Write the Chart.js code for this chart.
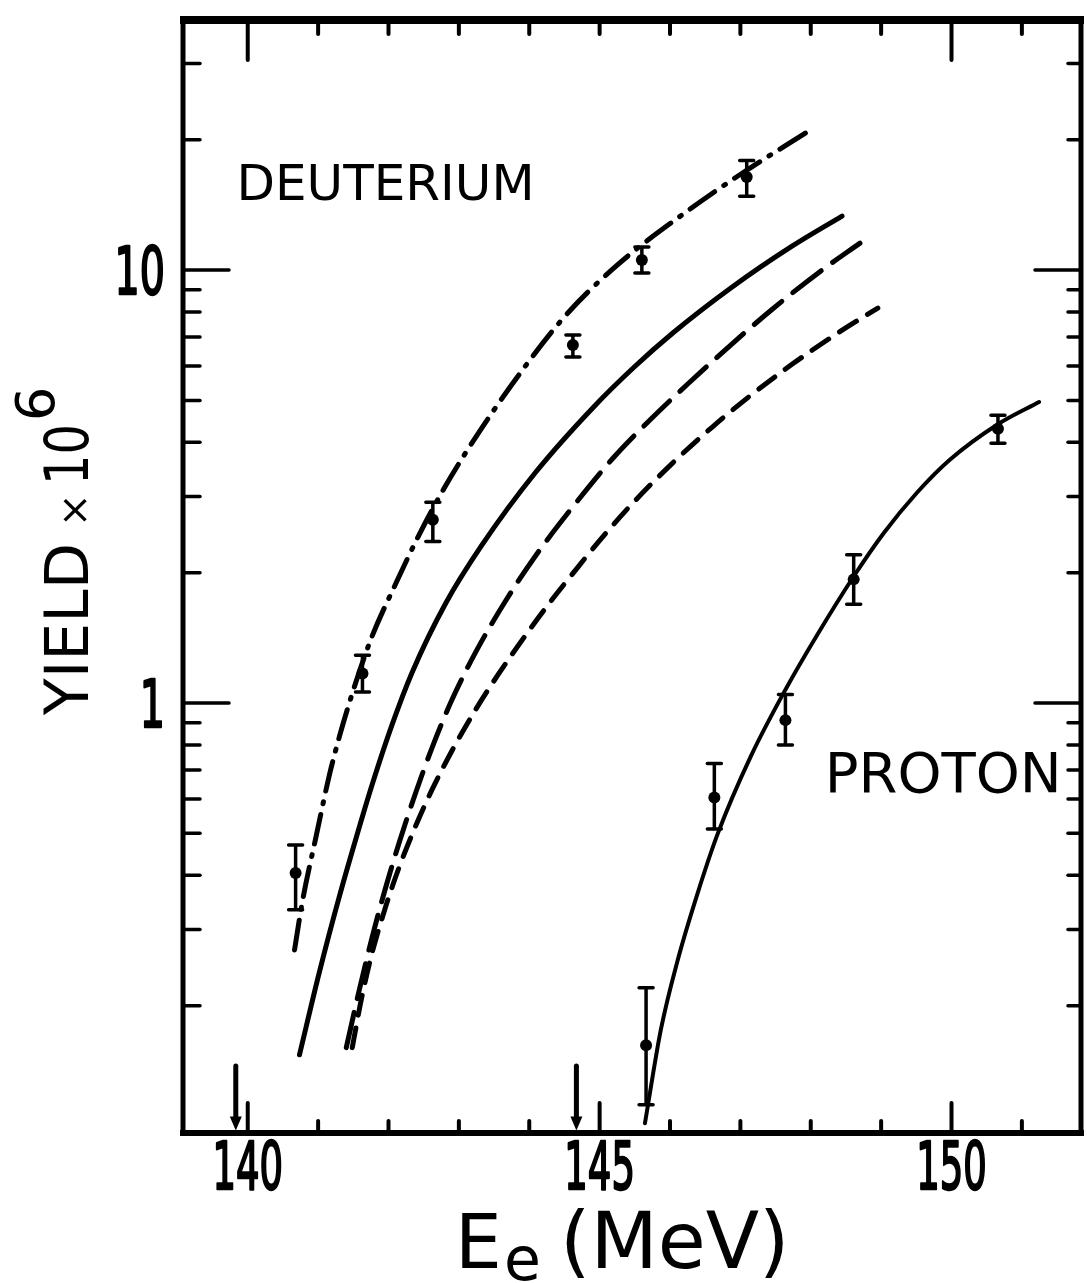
<!DOCTYPE html>
<html>
<head>
<meta charset="utf-8">
<script src="https://cdn.jsdelivr.net/npm/chart.js@4.4.1/dist/chart.umd.min.js"></script>
<style>
  html, body { margin: 0; padding: 0; background: #fff; }
  canvas { display: block; }
</style>
</head>
<body>
<canvas id="yieldChart" width="1087" height="1283"></canvas>
<script>
// measured points, energy in MeV, yield x 10^6
const deutE  = [140.68, 141.63, 142.63, 144.62, 145.60, 147.09];
const deutY  = [0.405, 1.17, 2.65, 6.71, 10.55, 16.4];
const deutLo = [0.333, 1.06, 2.36, 6.30, 9.84, 14.8];
const deutHi = [0.47, 1.29, 2.91, 7.08, 11.3, 17.9];

const protE  = [145.66, 146.63, 147.64, 148.61, 150.66];
const protY  = [0.162, 0.605, 0.913, 1.93, 4.30];
const protLo = [0.118, 0.512, 0.80, 1.69, 3.98];
const protHi = [0.22, 0.725, 1.046, 2.20, 4.62];

// calculated curves
const dashDotE = [140.665, 140.778, 140.976, 141.16, 141.301, 141.443, 141.584, 141.768, 142.107, 142.433, 142.801, 143.14, 143.748, 144.484, 145.233, 146.266, 146.987, 147.992];
const dashDotY = [0.269, 0.349, 0.496, 0.682, 0.835, 1.0, 1.179, 1.428, 1.893, 2.443, 3.154, 3.881, 5.425, 7.747, 10.21, 13.76, 16.58, 21.05];

const solidE = [140.735, 141.018, 141.301, 141.542, 141.768, 142.051, 142.334, 142.815, 143.324, 144.088, 144.922, 145.488, 146.04, 146.874, 147.723, 148.444];
const solidY = [0.154, 0.239, 0.357, 0.489, 0.648, 0.891, 1.175, 1.702, 2.312, 3.407, 4.842, 5.964, 7.155, 9.113, 11.32, 13.32];

const longDashE = [141.40, 141.584, 141.768, 141.966, 142.15, 142.39, 142.617, 142.90, 143.239, 143.663, 144.088, 144.696, 145.205, 145.686, 146.252, 146.719, 147.44, 148.161, 148.699];
const longDashY = [0.160, 0.217, 0.288, 0.378, 0.475, 0.623, 0.787, 1.016, 1.311, 1.72, 2.186, 2.943, 3.70, 4.457, 5.455, 6.397, 8.085, 10.0, 11.54];

const shortDashE = [141.485, 141.612, 141.754, 141.966, 142.15, 142.39, 142.617, 142.90, 143.239, 143.564, 144.031, 144.314, 144.583, 145.035, 145.488, 146.04, 146.605, 147.157, 147.723, 148.388, 148.953];
const shortDashY = [0.160, 0.206, 0.260, 0.341, 0.417, 0.522, 0.630, 0.775, 0.966, 1.167, 1.497, 1.725, 1.958, 2.41, 2.915, 3.587, 4.345, 5.15, 6.04, 7.161, 8.171];

const protCurveE = [145.644, 145.87, 146.11, 146.393, 146.676, 147.143, 147.638, 148.091, 148.614, 149.038, 149.505, 149.972, 150.665, 151.245];
const protCurveY = [0.107, 0.176, 0.255, 0.364, 0.498, 0.750, 1.072, 1.436, 1.965, 2.47, 3.055, 3.641, 4.41, 4.957];

// threshold arrows
const arrowE = [139.83, 144.67];
const arrowTop = 0.145;
const arrowTip = 0.103;

// axis ticks
const xLabels = [140, 145, 150];
const xMinor = [141, 142, 143, 144, 146, 147, 148, 149, 151];
const xTopMajor = [140, 150];
const xTopMinor = [141, 142, 143, 144, 145, 146, 147, 148, 149, 151];
const yLabels = [1, 10];
const yMinor = [0.2, 0.3, 0.4, 0.5, 0.6, 0.7, 0.8, 0.9, 2, 3, 4, 5, 6, 7, 8, 9, 20, 30];

const font = "'DejaVu Sans', 'Noto Sans', sans-serif";

function pts(xs, ys) {
  return xs.map((v, i) => ({ x: v, y: ys[i] }));
}

function curve(xs, ys, dash, w) {
  return {
    data: pts(xs, ys),
    showLine: true,
    borderColor: '#000',
    borderWidth: w,
    borderDash: dash,
    borderCapStyle: 'round',
    pointRadius: 0,
    cubicInterpolationMode: 'monotone'
  };
}

function marks(xs, ys) {
  return {
    data: pts(xs, ys),
    showLine: false,
    pointRadius: 6,
    pointBackgroundColor: '#000',
    pointBorderColor: '#000',
    pointBorderWidth: 0
  };
}

const decor = {
  id: 'decor',
  beforeDraw(chart) {
    const ctx = chart.ctx;
    ctx.save();
    ctx.fillStyle = '#fff';
    ctx.fillRect(0, 0, chart.width, chart.height);
    ctx.restore();
  },
  afterDatasetsDraw(chart) {
    const { ctx, chartArea: a, scales: { x, y } } = chart;
    ctx.save();
    ctx.strokeStyle = '#000';
    ctx.fillStyle = '#000';
    ctx.lineCap = 'round';

    // error bars
    const bars = (es, lo, hi) => {
      es.forEach((e, i) => {
        const px = x.getPixelForValue(e);
        const y1 = y.getPixelForValue(lo[i]);
        const y2 = y.getPixelForValue(hi[i]);
        ctx.lineWidth = 3.5;
        ctx.beginPath();
        ctx.moveTo(px, y1); ctx.lineTo(px, y2);
        ctx.moveTo(px - 7, y1); ctx.lineTo(px + 7, y1);
        ctx.moveTo(px - 7, y2); ctx.lineTo(px + 7, y2);
        ctx.stroke();
      });
    };
    bars(deutE, deutLo, deutHi);
    bars(protE, protLo, protHi);

    // arrows
    arrowE.forEach(e => {
      const px = x.getPixelForValue(e);
      const t = y.getPixelForValue(arrowTop);
      const b = y.getPixelForValue(arrowTip);
      ctx.lineWidth = 5;
      ctx.beginPath();
      ctx.moveTo(px, t); ctx.lineTo(px, b - 12);
      ctx.stroke();
      ctx.beginPath();
      ctx.moveTo(px - 6, b - 14); ctx.lineTo(px + 6, b - 14); ctx.lineTo(px, b);
      ctx.closePath();
      ctx.fill();
    });

    // frame
    ctx.lineCap = 'butt';
    ctx.lineWidth = 8;
    ctx.beginPath(); ctx.moveTo(a.left - 3, a.top); ctx.lineTo(a.right + 3, a.top); ctx.stroke();
    ctx.lineWidth = 6;
    ctx.beginPath(); ctx.moveTo(a.left - 3, a.bottom); ctx.lineTo(a.right + 3, a.bottom); ctx.stroke();
    ctx.lineWidth = 5;
    ctx.beginPath(); ctx.moveTo(a.left, a.top); ctx.lineTo(a.left, a.bottom); ctx.stroke();
    ctx.beginPath(); ctx.moveTo(a.right, a.top); ctx.lineTo(a.right, a.bottom); ctx.stroke();

    // tick marks, drawn inward
    ctx.lineWidth = 4;
    ctx.lineCap = 'round';
    const tx = (vals, len, atTop) => vals.forEach(v => {
      const px = x.getPixelForValue(v);
      const base = atTop ? a.top : a.bottom;
      ctx.beginPath();
      ctx.moveTo(px, base);
      ctx.lineTo(px, atTop ? base + len : base - len);
      ctx.stroke();
    });
    const ty = (vals, len, atRight) => vals.forEach(v => {
      const py = y.getPixelForValue(v);
      const base = atRight ? a.right : a.left;
      ctx.beginPath();
      ctx.moveTo(base, py);
      ctx.lineTo(atRight ? base - len : base + len, py);
      ctx.stroke();
    });
    tx(xLabels, 30, false);
    tx(xMinor, 12, false);
    tx(xTopMajor, 40, true);
    tx(xTopMinor, 14, true);
    ctx.lineWidth = 3.5;
    ty(yLabels, 46, false);
    ty(yMinor, 17, false);
    ty(yLabels, 46, true);
    ty(yMinor, 13, true);

    // tick labels, narrow digits
    ctx.textBaseline = 'alphabetic';
    ctx.font = '66px ' + font;
    ctx.lineWidth = 2.5;
    ctx.lineJoin = 'round';
    xLabels.forEach(v => {
      const px = x.getPixelForValue(v);
      ctx.save();
      ctx.translate(px, a.bottom + 56);
      ctx.scale(0.56, 1);
      ctx.textAlign = 'center';
      ctx.fillText(String(v), 0, 0);
      ctx.strokeText(String(v), 0, 0);
      ctx.restore();
    });
    yLabels.forEach(v => {
      const py = y.getPixelForValue(v);
      ctx.save();
      ctx.translate(a.left - 18, py + 24);
      ctx.scale(0.6, 1);
      ctx.textAlign = 'right';
      ctx.fillText(String(v), 0, 0);
      ctx.strokeText(String(v), 0, 0);
      ctx.restore();
    });

    // curve labels
    ctx.textAlign = 'left';
    ctx.font = '50px ' + font;
    ctx.fillText('DEUTERIUM', x.getPixelForValue(139.84), y.getPixelForValue(14.5));
    ctx.font = '56px ' + font;
    ctx.fillText('PROTON', x.getPixelForValue(148.2), y.getPixelForValue(0.623));

    // y axis title
    ctx.save();
    ctx.translate(88, 715);
    ctx.rotate(-Math.PI / 2);
    ctx.font = '60px ' + font;
    ctx.fillText('YIELD', 0, 0);
    ctx.font = '40px ' + font;
    ctx.fillText('\u00d7', 188, 0);
    ctx.save();
    ctx.translate(230, 0);
    ctx.scale(0.8, 1);
    ctx.font = '60px ' + font;
    ctx.fillText('10', 0, 0);
    ctx.restore();
    ctx.font = '54px ' + font;
    ctx.fillText('6', 294, -34);
    ctx.restore();

    // x axis title
    ctx.font = '74px ' + font;
    ctx.fillText('E', 455, 1268);
    ctx.font = '60px ' + font;
    ctx.fillText('e', 504, 1280);
    ctx.font = '78px ' + font;
    ctx.fillText('(MeV)', 560, 1268);

    ctx.restore();
  }
};

new Chart(document.getElementById('yieldChart'), {
  type: 'scatter',
  data: {
    datasets: [
      curve(dashDotE, dashDotY, [30, 11, 2, 11], 5),
      curve(solidE, solidY, [], 5),
      curve(longDashE, longDashY, [36, 14], 5),
      curve(shortDashE, shortDashY, [20, 13], 5),
      curve(protCurveE, protCurveY, [], 4),
      marks(deutE, deutY),
      marks(protE, protY)
    ]
  },
  options: {
    responsive: false,
    animation: false,
    layout: { padding: { top: 20, right: 2, left: 0, bottom: 0 } },
    plugins: { legend: { display: false }, tooltip: { enabled: false } },
    scales: {
      x: {
        type: 'linear',
        min: 139.08,
        max: 151.84,
        grid: { display: false },
        border: { display: false },
        ticks: { display: false },
        afterFit(s) { s.height = 150; }
      },
      y: {
        type: 'logarithmic',
        min: 0.1016,
        max: 37.8,
        grid: { display: false },
        border: { display: false },
        ticks: { display: false },
        afterFit(s) { s.width = 183; }
      }
    }
  },
  plugins: [decor]
});
</script>
</body>
</html>
